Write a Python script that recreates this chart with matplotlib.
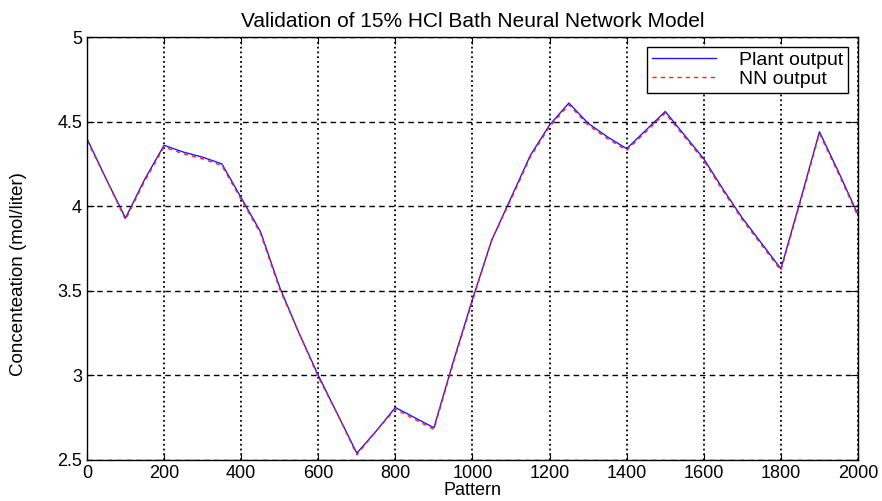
import matplotlib.pyplot as plt
import numpy as np

plt.rcParams['font.family'] = ['Liberation Sans', 'DejaVu Sans']

pattern = np.arange(0, 2001, 50)

plant = [4.40, 4.16, 3.93, 4.16, 4.36, 4.32, 4.29, 4.25, 4.05, 3.85,
         3.52, 3.25, 3.00, 2.77, 2.54, 2.67, 2.81, 2.75, 2.69, 3.08,
         3.45, 3.80, 4.05, 4.30, 4.48, 4.61, 4.49, 4.41, 4.34, 4.45,
         4.56, 4.42, 4.28, 4.10, 3.93, 3.78, 3.63, 4.03, 4.44, 4.20,
         3.95]

nn = [4.39, 4.16, 3.92, 4.15, 4.35, 4.31, 4.28, 4.24, 4.04, 3.84,
      3.51, 3.25, 2.99, 2.77, 2.53, 2.67, 2.80, 2.74, 2.68, 3.07,
      3.44, 3.80, 4.04, 4.29, 4.47, 4.60, 4.48, 4.40, 4.33, 4.44,
      4.55, 4.41, 4.27, 4.09, 3.92, 3.77, 3.62, 4.02, 4.43, 4.19,
      3.94]

fig = plt.figure(figsize=(8.82, 5.01), dpi=100)
ax = fig.add_axes([0.0986, 0.082, 0.8742, 0.844])

ax.plot(pattern, plant, color='#1a1aff', lw=1.0, label='Plant output')
ax.plot(pattern, nn, color='#ff2020', lw=1.0, ls=(0, (3, 3)), label='NN output')

ax.set_xlim(0, 2000)
ax.set_ylim(2.5, 5)
ax.set_xticks(np.arange(0, 2001, 200))
ax.set_yticks([2.5, 3, 3.5, 4, 4.5, 5])
ax.set_yticklabels(['2.5', '3', '3.5', '4', '4.5', '5'])

ax.xaxis.grid(True, ls=':', color='black', lw=1.3)
ax.yaxis.grid(True, ls=(0, (4, 3)), color='black', lw=1.0)
ax.tick_params(direction='in', top=True, right=True, labelsize=13, length=5)
for s in ax.spines.values():
    s.set_linewidth(1.0)

ax.set_xlabel('Pattern', fontsize=13, labelpad=0)
ax.set_ylabel('Concenteation (mol/liter)', fontsize=13.5)
ax.yaxis.set_label_coords(-0.078, 0.44)
ax.set_title('Validation of 15% HCl Bath Neural Network Model', fontsize=15, pad=7)

leg = ax.legend(loc='upper right', fontsize=14, fancybox=False, edgecolor='black',
                framealpha=1, borderpad=0.25, labelspacing=0.05, handlelength=3.3,
                handletextpad=1.2, borderaxespad=0.5)
leg.get_frame().set_linewidth(1.0)

plt.savefig('out.png', dpi=100)
